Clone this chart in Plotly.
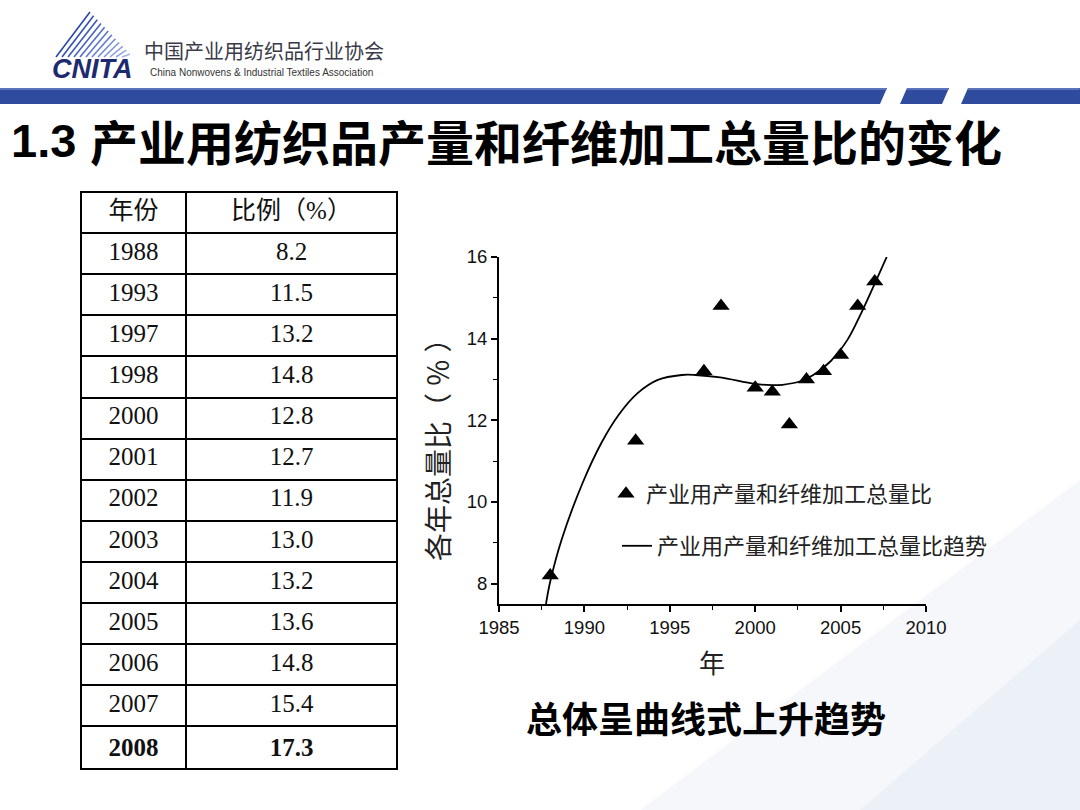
import plotly.graph_objects as go

# ---------------- data ----------------
table_years = [1988, 1993, 1997, 1998, 2000, 2001, 2002, 2003, 2004, 2005, 2006, 2007, 2008]
table_ratios = [8.2, 11.5, 13.2, 14.8, 12.8, 12.7, 11.9, 13.0, 13.2, 13.6, 14.8, 15.4, 17.3]

# trend curve
trend_x = [1987.75, 1988.0, 1988.67, 1989.9, 1991.0, 1992.0, 1993.1, 1994.3, 1995.7, 1996.5,
           1997.95, 1999.97, 2000.98, 2001.6, 2002.6, 2003.4, 2004.4, 2005.4, 2006.2, 2007.0, 2007.7]
trend_y = [7.5, 8.05, 9.08, 10.47, 11.45, 12.13, 12.66, 12.99, 13.11, 13.11,
           13.05, 12.89, 12.86, 12.87, 12.95, 13.11, 13.44, 13.97, 14.62, 15.35, 16.0]

header_labels = ["年份", "比例（%）"]
x_ticks = [1985, 1990, 1995, 2000, 2005, 2010]
y_ticks = [8, 10, 12, 14, 16]

W, H = 1080, 810


def X(px):
    return px / W


def Y(py):
    return 1 - py / H


fig = go.Figure()

# ---------------- table ----------------
year_cells = [str(y) for y in table_years]
ratio_cells = [f"{v:.1f}" for v in table_ratios]
year_cells[-1] = f"<b>{year_cells[-1]}</b>"
ratio_cells[-1] = f"<b>{ratio_cells[-1]}</b>"

serif = "Liberation Serif, Times New Roman, Noto Sans CJK SC, serif"
row_h = 41.1
fig.add_trace(go.Table(
    domain=dict(x=[X(81), X(397)], y=[Y(772), Y(192)]),
    columnwidth=[105, 211],
    header=dict(values=header_labels, height=row_h, align="center",
                fill_color="white", line=dict(color="black", width=2),
                font=dict(family=serif, size=25, color="#111")),
    cells=dict(values=[year_cells, ratio_cells], height=row_h, align="center",
               fill_color="white", line=dict(color="black", width=2),
               font=dict(family=serif, size=25, color="#111")),
))

# ---------------- chart ----------------
fig.add_trace(go.Scatter(
    x=table_years, y=table_ratios, mode="markers",
    marker=dict(symbol="triangle-up", size=15, color="black"),
    name="产业用产量和纤维加工总量比", legend="legend",
))
fig.add_trace(go.Scatter(
    x=trend_x, y=trend_y, mode="lines", line=dict(color="black", width=1.8, shape="spline"),
    name="产业用产量和纤维加工总量比趋势", legend="legend2",
))

tickfont = dict(family="Liberation Sans, Arial, sans-serif", size=18.5, color="#111")
fig.update_xaxes(
    domain=[X(499), X(926)], range=[1985, 2010], tickvals=x_ticks, automargin=False,
    ticks="outside", ticklen=6, tickwidth=1.5, tickcolor="black",
    showline=True, linewidth=2, linecolor="black", showgrid=False, zeroline=False,
    minor=dict(dtick=2.5, tick0=1985, ticks="outside", ticklen=4, tickwidth=1.2, tickcolor="black"),
    tickfont=tickfont, anchor="y",
)
fig.update_yaxes(
    domain=[Y(604), Y(257)], range=[7.5, 16], tickvals=y_ticks, automargin=False,
    ticks="outside", ticklen=6, tickwidth=1.5, tickcolor="black",
    showline=True, linewidth=2, linecolor="black", showgrid=False, zeroline=False,
    minor=dict(dtick=1, tick0=8, ticks="outside", ticklen=4, tickwidth=1.2, tickcolor="black"),
    tickfont=tickfont, anchor="x",
)

legend_font = dict(family="Noto Sans CJK SC, sans-serif", size=22, color="#222")

# ---------------- decorative shapes ----------------
shapes = []
shapes.append(dict(type="path", xref="paper", yref="paper", layer="below",
                   path=f"M {X(640)},{Y(810)} L {X(1080)},{Y(480)} L {X(1080)},{Y(810)} Z",
                   fillcolor="rgba(226,231,243,0.35)", line=dict(width=0)))
shapes.append(dict(type="path", xref="paper", yref="paper", layer="below",
                   path=f"M {X(860)},{Y(810)} L {X(1080)},{Y(620)} L {X(1080)},{Y(810)} Z",
                   fillcolor="rgba(220,226,240,0.35)", line=dict(width=0)))
bar = "#2f4b9d"
segs = [(0, 887, 880, 0), (907, 949, 942, 900), (968, 1080, 1080, 961)]
for tl, tr, br, bl in segs:
    shapes.append(dict(type="path", xref="paper", yref="paper",
                       path=f"M {X(tl)},{Y(88)} L {X(tr)},{Y(88)} L {X(br)},{Y(104)} L {X(bl)},{Y(104)} Z",
                       fillcolor=bar, line=dict(width=0)))
    shapes.append(dict(type="line", xref="paper", yref="paper",
                       x0=X(tl), x1=X(tr - 0.5), y0=Y(89), y1=Y(89),
                       line=dict(color="#5d74bb", width=2)))
n = 12
for i in range(n):
    t = i / (n - 1)
    x_top = 90 + 40 * t
    y_top = 12 + 42 * t
    x_bot = 56 + 6 * i
    shapes.append(dict(type="line", xref="paper", yref="paper",
                       x0=X(x_bot), y0=Y(57), x1=X(x_top), y1=Y(y_top),
                       line=dict(color=f"rgba({40 + 120 * t:.0f},{70 + 110 * t:.0f},{170 + 60 * t:.0f},1)",
                                 width=1.6)))


def note(text, px, py, size, family, color="#222", xanchor="left", angle=0):
    return dict(text=text, x=X(px), y=Y(py), xref="paper", yref="paper",
                xanchor=xanchor, yanchor="middle", textangle=angle, showarrow=False,
                font=dict(family=family, size=size, color=color))


sans = "Liberation Sans, Arial, sans-serif"
cjk = "Noto Sans CJK SC, sans-serif"
annotations = [
    note("<b><i>CNITA</i></b>", 50, 69, 27, sans, "#1c2a70"),
    note("中国产业用纺织品行业协会", 142, 50, 20, cjk, "#3a3a48"),
    note("China Nonwovens &amp; Industrial Textiles Association", 148, 72, 10, sans, "#333"),
    note("<b>1.3</b>", 9, 141, 47, sans, "black"),
    note("<b>产业用纺织品产量和纤维加工总量比的变化</b>", 88, 140, 48, cjk, "black"),
    note("各年总量比（ ％ ）", 437, 443, 28, cjk, "#222", "center", -90),
    note("年", 712, 661, 26, cjk, "#222", "center"),
    note("<b>总体呈曲线式上升趋势</b>", 706, 717, 36, cjk, "black", "center"),
]

fig.update_layout(
    width=W, height=H, margin=dict(l=0, r=0, t=0, b=0, autoexpand=False),
    paper_bgcolor="white", plot_bgcolor="rgba(0,0,0,0)",
    showlegend=True,
    legend=dict(x=X(606), y=Y(494), xanchor="left", yanchor="middle", bgcolor="rgba(0,0,0,0)",
                font=legend_font),
    legend2=dict(x=X(617), y=Y(546), xanchor="left", yanchor="middle", bgcolor="rgba(0,0,0,0)",
                 font=legend_font),
    shapes=shapes, annotations=annotations,
)

fig.write_html("out.html", config={"displayModeBar": False},
               post_script="document.body.style.margin='0px';")
